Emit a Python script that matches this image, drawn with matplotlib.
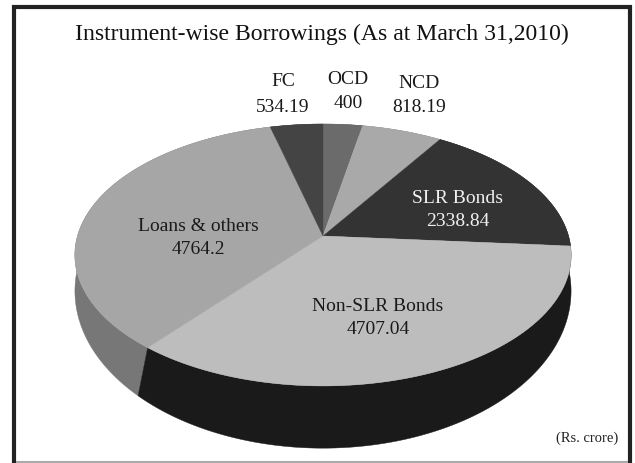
import numpy as np
import matplotlib
matplotlib.use("Agg")
import matplotlib.pyplot as plt

categories = ["OCD", "NCD", "SLR Bonds", "Non-SLR Bonds", "Loans & others", "FC"]
values = [400, 818.19, 2338.84, 4707.04, 4764.2, 534.19]
value_labels = ["400", "818.19", "2338.84", "4707.04", "4764.2", "534.19"]
top_colors = ["#6b6b6b", "#a9a9a9", "#333333", "#bdbdbd", "#a6a6a6", "#444444"]
side_colors = ["#555555", "#808080", "#222222", "#1a1a1a", "#777777", "#333333"]

W, H = 635, 464
fig = plt.figure(figsize=(W / 100, H / 100), dpi=100, facecolor="white")
ax = fig.add_axes([0, 0, 1, 1])
ax.set_xlim(0, W)
ax.set_ylim(H, 0)
ax.axis("off")

FONT = ["Liberation Serif"]
TOP_FACE = dict(cx=323, cy=237, ax=245.5, ay=128.2, k=0.145)
BOTTOM_FACE = dict(cx=323, cy=257.5, ax=242, ay=149.5, k=0.22)


def project(theta, face):
    """Perspective view of a unit disc; theta runs clockwise from twelve o'clock."""
    x, y = np.sin(theta), np.cos(theta)
    d = 1 + face["k"] * y
    return face["cx"] + face["ax"] * x / d, face["cy"] - face["ay"] * y / d


fractions = np.array(values) / np.sum(values)
edges = np.concatenate([[0], np.cumsum(fractions)]) * 2 * np.pi
arcs = [np.linspace(a, b, 200) for a, b in zip(edges[:-1], edges[1:])]

# Rim first, rear slices before the front ones
order = [0, 1, 5, 2, 4, 3]
for i in order:
    xt, yt = project(arcs[i], TOP_FACE)
    xb, yb = project(arcs[i], BOTTOM_FACE)
    ax.fill(np.r_[xt, xb[::-1]], np.r_[yt, yb[::-1]],
            color=side_colors[i], lw=0.3, zorder=2)

# Upper face of the pie
for i, arc in enumerate(arcs):
    xt, yt = project(arc, TOP_FACE)
    ax.fill(np.r_[TOP_FACE["cx"], xt], np.r_[TOP_FACE["cy"], yt],
            color=top_colors[i], lw=0.3, zorder=3)

# Slice captions: name and amount positions
label_pos = {
    "FC": (283, 82, 107), "OCD": (348, 80, 104), "NCD": (419, 83, 107),
    "SLR Bonds": (458, 199, 222), "Non-SLR Bonds": (378, 307, 330),
    "Loans & others": (198, 227, 250),
}
for name, val in zip(categories, value_labels):
    x, y_name, y_val = label_pos[name]
    tone = "#f0f0f0" if name == "SLR Bonds" else "#1a1a1a"
    ax.text(x, y_name, name, ha="center", va="center", fontsize=14,
            family=FONT, color=tone, zorder=5)
    ax.text(x, y_val, val, ha="center", va="center", fontsize=14,
            family=FONT, color=tone, zorder=5)

ax.text(322, 34, "Instrument-wise Borrowings (As at March 31,2010)", ha="center", va="center",
        fontsize=17.1, family=FONT, color="#111111", zorder=5)
ax.text(618, 438, "(Rs. crore)", ha="right", va="center", fontsize=10.5,
        family=FONT, color="#222222", zorder=5)

# Outer frame
for xs, ys, lw, tone in [((14, 14), (6, 464), 3, "#222222"),
                         ((12, 632), (8, 8), 3, "#222222"),
                         ((630, 630), (6, 464), 3, "#222222"),
                         ((16, 628), (463, 463), 1.5, "#aaaaaa")]:
    ax.plot(xs, ys, color=tone, lw=lw, solid_capstyle="butt", zorder=6)

fig.savefig("out.png", dpi=100, facecolor="white")
